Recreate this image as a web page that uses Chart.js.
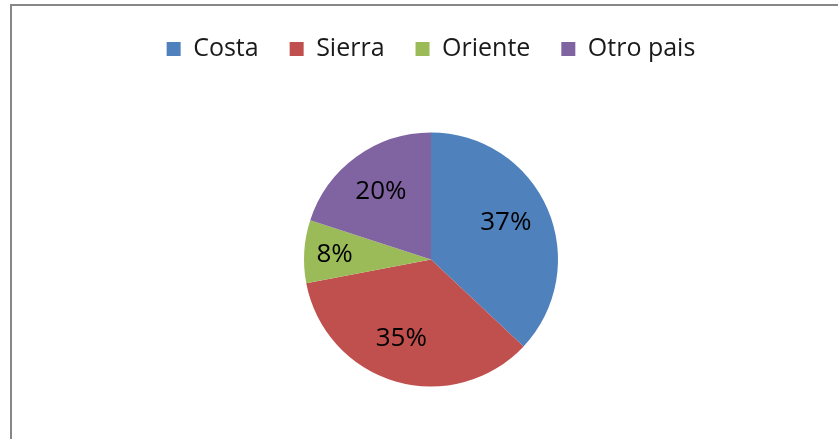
<!DOCTYPE html>
<html>
<head>
<meta charset="utf-8">
<script src="https://cdn.jsdelivr.net/npm/chart.js@4"></script>
<style>
  html, body { margin: 0; padding: 0; background: #fff; overflow: hidden; width: 838px; height: 439px; }
  #frame { position: absolute; left: 10px; top: 4px; width: 900px; height: 500px;
           border-left: 2px solid #878787; border-top: 2px solid #878787; }
  #c { position: absolute; left: 0; top: 0; }
</style>
</head>
<body>
<div id="frame"></div>
<canvas id="c" width="838" height="448"></canvas>
<script>
const categories = ['Costa', 'Sierra', 'Oriente', 'Otro pais'];
const values = [37, 35, 8, 20];
const colors = ['#4F81BD', '#C0504D', '#9BBB59', '#8064A2'];

const labelRadius = [0.66, 0.66, 0.76, 0.67];
const labelAngleShift = [-0.06, 0.08, 0.0, 0.0];
const FONT = '"Open Sans", "Noto Sans", sans-serif';

const pieLabels = {
  id: 'pieLabels',
  afterDatasetsDraw(chart) {
    const ctx = chart.ctx;
    const meta = chart.getDatasetMeta(0);
    ctx.save();
    ctx.font = '26px ' + FONT;
    ctx.fillStyle = '#000';
    ctx.textAlign = 'center';
    ctx.textBaseline = 'middle';
    meta.data.forEach((arc, i) => {
      const p = arc.getProps(['x', 'y', 'startAngle', 'endAngle', 'outerRadius'], true);
      const mid = (p.startAngle + p.endAngle) / 2 + labelAngleShift[i];
      const r = p.outerRadius * labelRadius[i];
      ctx.fillText(values[i] + '%', p.x + Math.cos(mid) * r, p.y + Math.sin(mid) * r + 1);
    });
    ctx.restore();
  }
};

new Chart(document.getElementById('c'), {
  type: 'pie',
  data: {
    labels: categories,
    datasets: [{
      data: values,
      backgroundColor: colors,
      borderWidth: 0,
      radius: 127
    }]
  },
  options: {
    responsive: false,
    devicePixelRatio: 1,
    animation: false,
    layout: { padding: { left: 24, right: 0, top: 5.5, bottom: 0.5 } },
    plugins: {
      tooltip: { enabled: false },
      legend: {
        position: 'top',
        labels: {
          boxWidth: 14,
          boxHeight: 14,
          padding: 31,
          color: '#1a1a1a',
          font: { family: FONT, size: 25 }
        }
      }
    }
  },
  plugins: [pieLabels]
});
</script>
</body>
</html>
